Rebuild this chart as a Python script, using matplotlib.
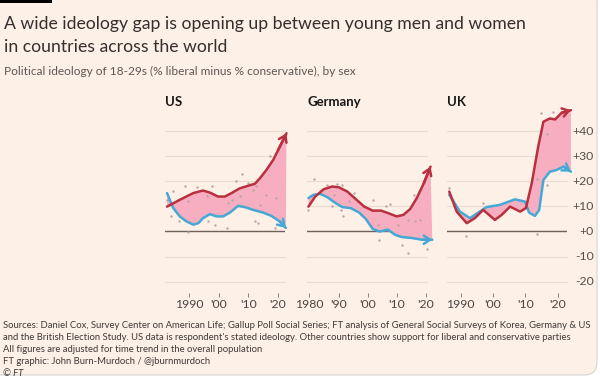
import matplotlib

matplotlib.use("Agg")
import matplotlib.pyplot as plt
from matplotlib.patches import FancyBboxPatch, Rectangle

plt.rcParams["font.family"] = ["Lato", "DejaVu Sans"]

# ── Data ──────────────────────────────────────────────────────────────────────
US_MEN_YEAR = [1982.5, 1986.8, 1991.4, 1994.7, 1997.0, 1999.8, 2002.1, 2004.4,
               2007.2, 2010.0, 2012.3, 2014.0, 2016.2, 2018.5, 2020.2, 2023.0]
US_MEN = [9.9, 12.6, 15.3, 16.3, 15.5, 13.9, 13.9, 15.3,
          17.2, 18.2, 19.0, 21.2, 24.5, 28.5, 32.5, 39.1]
US_WOMEN_YEAR = [1982.5, 1984.6, 1986.8, 1989.1, 1991.4, 1993.1, 1994.7, 1997.0,
                 1999.3, 2001.5, 2003.8, 2006.6, 2008.9, 2011.7, 2015.1, 2017.9,
                 2020.7, 2022.8]
US_WOMEN = [15.3, 9.3, 6.0, 4.0, 2.7, 3.3, 5.3, 6.9,
            6.0, 6.0, 7.5, 10.2, 9.7, 8.6, 7.5, 6.2, 4.0, 1.4]
US_DOT_YEAR = [1982.5, 1984.0, 1984.6, 1986.6, 1988.5, 1989.7, 1989.7, 1992.5,
               1995.9, 1997.6, 1996.4, 1998.7, 2002.7, 2003.2, 2004.4, 2006.0,
               2007.8, 2007.2, 2010.0, 2011.7, 2012.8, 2012.3, 2013.4, 2015.1,
               2016.2, 2014.0, 2017.4, 2019.0, 2019.6]
US_DOT = [12.7, 6.3, 16.0, 4.0, 18.0, 12.0, -0.4, 17.8,
          14.0, 18.3, 4.0, 2.7, 1.3, 11.3, 12.7, 20.0,
          22.7, 14.0, 19.4, 16.7, 18.0, 4.0, 3.4, 23.4,
          14.7, 10.7, 30.0, 1.4, 13.4]

DE_MEN_YEAR = [1979.7, 1982.0, 1984.9, 1987.8, 1990.1, 1993.0, 1995.9, 1998.8,
               2001.7, 2004.6, 2007.0, 2009.9, 2012.2, 2014.5, 2016.8, 2019.2,
               2021.5]
DE_MEN = [9.9, 13.9, 16.8, 17.9, 17.6, 15.9, 12.9, 9.9,
          8.3, 8.3, 7.3, 6.0, 6.6, 8.9, 13.3, 19.2, 25.8]
DE_WOMEN_YEAR = [1979.7, 1981.4, 1983.7, 1986.1, 1989.0, 1991.3, 1994.2, 1997.1,
                 1999.4, 2001.7, 2004.0, 2007.0, 2009.3, 2011.6, 2015.1, 2018.6,
                 2022.1]
DE_WOMEN = [13.3, 14.6, 15.0, 13.7, 11.3, 9.7, 9.3, 7.5,
            4.9, 1.0, 0.0, 0.7, -1.3, -2.2, -2.6, -3.3, -3.3]
DE_DOT_YEAR = [1979.7, 1981.6, 1986.0, 1989.5, 1991.3, 1988.4, 1987.8, 1990.7,
               1991.6, 1993.6, 1995.3, 2001.7, 2001.1, 2003.5, 2004.0, 2006.4,
               2007.5, 2007.0, 2010.5, 2011.6, 2013.9, 2015.7, 2016.2, 2013.7,
               2018.0, 2020.3]
DE_DOT = [8.7, 20.7, 18.7, 19.1, 18.7, 14.7, 10.0, 8.7,
          6.3, 12.0, 15.4, 12.7, 2.0, 2.7, -3.3, 10.0,
          11.0, 0.7, 2.7, -5.3, 4.7, 14.7, 4.0, -8.7,
          4.4, -7.0]

UK_MEN_YEAR = [1986.5, 1988.8, 1991.9, 1994.4, 1997.0, 2000.6, 2002.7, 2005.3,
               2008.4, 2010.2, 2012.0, 2014.0, 2015.6, 2017.6, 2019.2, 2021.3,
               2024.1]
UK_MEN = [15.9, 7.9, 3.3, 5.3, 8.6, 4.6, 6.6, 9.9,
          7.9, 9.3, 19.2, 33.8, 43.7, 45.0, 44.6, 47.3, 48.3]
UK_WOMEN_YEAR = [1986.5, 1989.8, 1992.9, 1994.4, 1998.0, 2002.2, 2006.8, 2009.9,
                 2011.2, 2013.0, 2014.3, 2015.6, 2017.6, 2019.7, 2021.8, 2024.1]
UK_WOMEN = [14.6, 7.9, 5.3, 6.6, 9.7, 10.6, 12.8, 11.9,
            7.5, 6.2, 8.6, 20.5, 23.8, 24.5, 25.8, 23.8]
UK_DOT_YEAR = [1986.5, 1991.6, 1996.8, 2013.7, 2013.7, 2014.9, 2016.8, 2016.8,
               2018.7]
UK_DOT = [17.4, -2.0, 11.4, -0.9, 20.7, 47.0, 39.0, 18.7, 47.4]

GRID_VALUES = [-20, -10, 10, 20, 30, 40]
Y_TICKS = [40, 30, 20, 10, 0, -10, -20]
Y_TICK_LABELS = ["+40", "+30", "+20", "+10", "+0", "-10", "-20"]

PANELS = [
    ("US", US_MEN_YEAR, US_MEN, US_WOMEN_YEAR, US_WOMEN, US_DOT_YEAR, US_DOT,
     (1981.8, 2022.5), [1990, 2000, 2010, 2020], ["1990", "'00", "'10", "'20"]),
    ("Germany", DE_MEN_YEAR, DE_MEN, DE_WOMEN_YEAR, DE_WOMEN, DE_DOT_YEAR, DE_DOT,
     (1979.2, 2020.3), [1980, 1990, 2000, 2010, 2020],
     ["1980", "'90", "'00", "'10", "'20"]),
    ("UK", UK_MEN_YEAR, UK_MEN, UK_WOMEN_YEAR, UK_WOMEN, UK_DOT_YEAR, UK_DOT,
     (1985.8, 2022.9), [1990, 2000, 2010, 2020], ["1990", "'00", "'10", "'20"]),
]

# ── Style ─────────────────────────────────────────────────────────────────────
BG = "#FDF0E6"
RED = "#B9303F"
BLUE = "#45A8D5"
FILL = "#F6AEC0"
DOT = "#BFA3A3"
GRID = "#E9DDD2"
ZERO = "#6E625C"
INK = "#33302E"
GREY = "#5E5854"

W, H = 600, 380
fig = plt.figure(figsize=(W / 100, H / 100), dpi=100, facecolor="white")

# card background with rounded corners (kept behind the axes)
card = FancyBboxPatch(
    (-0.1, 0.05), 6.07, 3.85,
    boxstyle="round,pad=0,rounding_size=0.13",
    transform=fig.dpi_scale_trans, facecolor=BG, edgecolor="#D8D4D0", lw=0.8,
    zorder=-10,
)
fig.patches.append(card)
fig.patches.append(Rectangle((0, 3.77), 0.52, 0.05, transform=fig.dpi_scale_trans,
                             facecolor="black", edgecolor="none", zorder=-9))


def fx(x):
    return x / W


def fy(y):
    return 1 - y / H


fig.text(fx(4), fy(29.5), "A wide ideology gap is opening up between young men and women",
         fontsize=12.7, color=INK, va="baseline")
fig.text(fx(4), fy(52.5), "in countries across the world",
         fontsize=12.7, color=INK, va="baseline")
fig.text(fx(4), fy(75), "Political ideology of 18-29s (% liberal minus % conservative), by sex",
         fontsize=8.6, color=GREY, va="baseline")

panel_left = [165, 307, 447]
panel_w = 120
y_bottom, y_top = 281.7, 105.9

for (name, mx, my, wx, wy, dx, dy, xlim, xt, xtl), left in zip(PANELS, panel_left):
    ax = fig.add_axes([fx(left), fy(y_bottom), panel_w / W, (y_bottom - y_top) / H])
    ax.set_facecolor("none")
    ax.set_xlim(*xlim)
    ax.set_ylim(-20, 50)
    for s in ax.spines.values():
        s.set_visible(False)
    ax.spines["bottom"].set_position(("outward", 8))
    ax.set_yticks([])
    ax.set_xticks(xt)
    ax.set_xticklabels(xtl)
    ax.tick_params(axis="x", length=3, width=0.7, color="#8A807A", pad=1.5,
                   labelsize=8.8, labelcolor="#4A4542")

    for g in GRID_VALUES:
        ax.axhline(g, color=GRID, lw=0.8, zorder=0, clip_on=False)
    ax.axhline(0, color=ZERO, lw=1.0, zorder=1)

    ax.fill(list(mx) + list(wx)[::-1], list(my) + list(wy)[::-1],
            color=FILL, lw=0, zorder=2, clip_on=False)
    ax.scatter(dx, dy, s=3, color=DOT, lw=0, zorder=3, clip_on=False)

    for xs, ys, c in ((wx, wy, BLUE), (mx, my, RED)):
        ax.plot(xs, ys, color=c, lw=1.8, zorder=4, clip_on=False,
                solid_capstyle="round", solid_joinstyle="round")
        ax.annotate("", xy=(xs[-1], ys[-1]), xytext=(xs[-2], ys[-2]),
                    arrowprops=dict(arrowstyle="->,head_length=0.45,head_width=0.3",
                                    color=c, lw=1.8, shrinkA=0, shrinkB=0),
                    zorder=5, annotation_clip=False)

    fig.text(fx(left), fy(101.7), name, fontsize=9.5, fontweight="bold",
             color="#1A1817", va="center")

    if name == "UK":
        for v, lab in zip(Y_TICKS, Y_TICK_LABELS):
            ax.text(1.225, v, lab, transform=ax.get_yaxis_transform(),
                    ha="right", va="center", fontsize=8.8, color="#55504C")

footer = [
    "Sources: Daniel Cox, Survey Center on American Life; Gallup Poll Social Series; "
    "FT analysis of General Social Surveys of Korea, Germany & US",
    "and the British Election Study. US data is respondent's stated ideology. "
    "Other countries show support for liberal and conservative parties",
    "All figures are adjusted for time trend in the overall population",
    "FT graphic: John Burn-Murdoch / @jburnmurdoch",
]
for i, line in enumerate(footer):
    fig.text(fx(3), fy(325 + 12.2 * i), line, fontsize=6.8, color="#3F3A37", va="center")
fig.text(fx(3), fy(373.5), "© FT", fontsize=6.8, color="#3F3A37", va="center",
         style="italic")

fig.savefig("out.png", dpi=100, facecolor="white")
